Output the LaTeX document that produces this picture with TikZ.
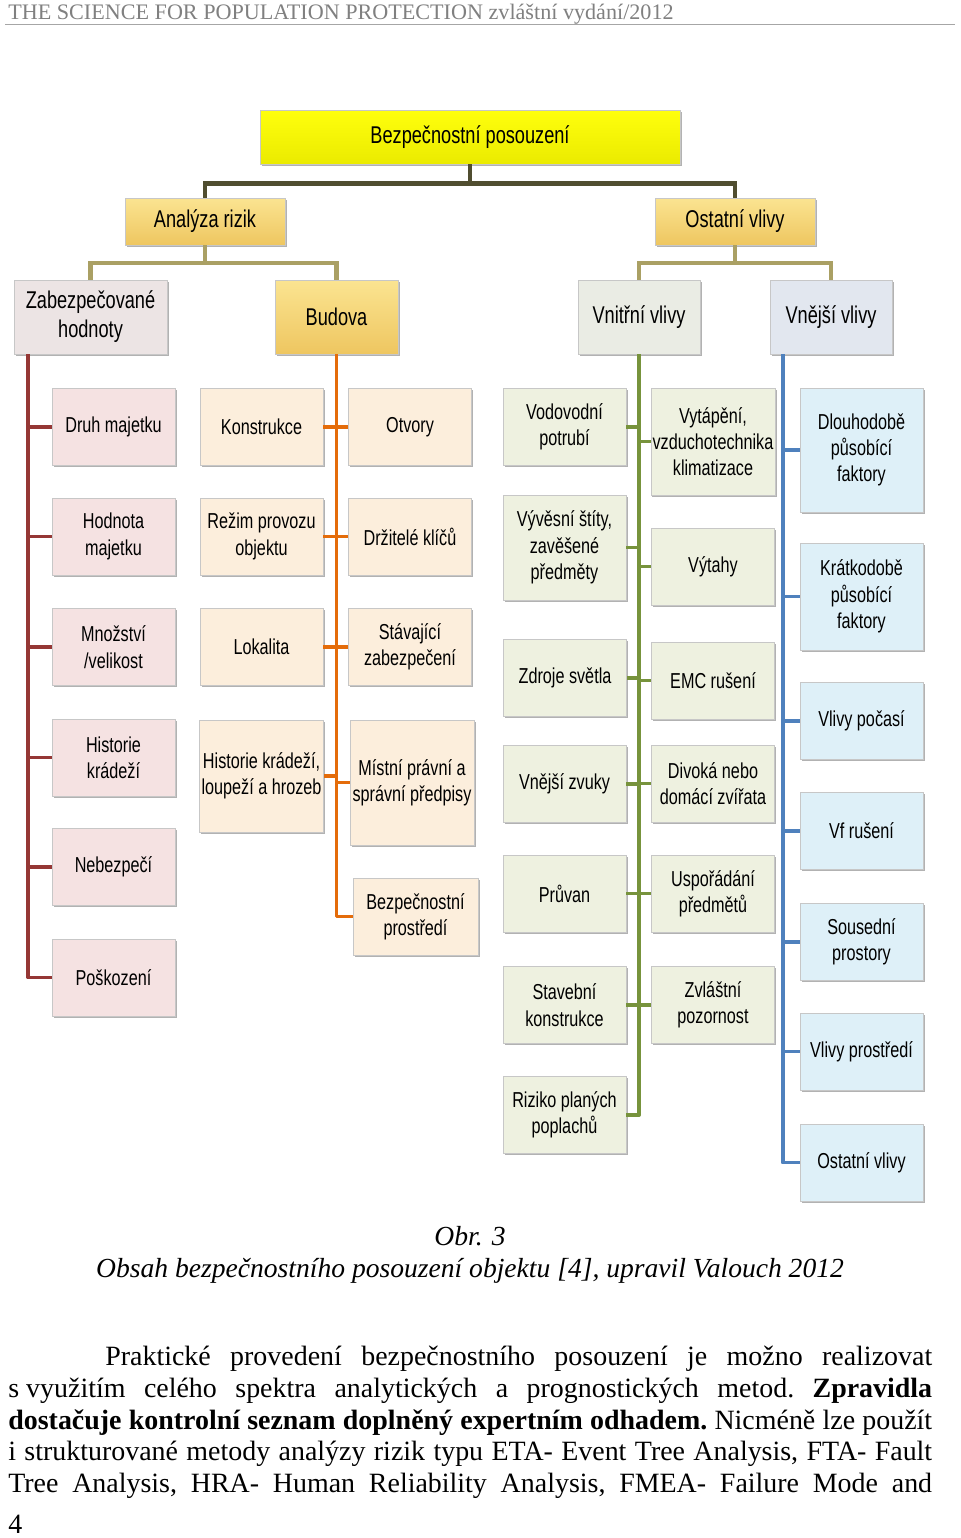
\documentclass[tikz,border=0pt]{standalone}
\usepackage{fontspec}
\setmainfont{Liberation Serif}
\newfontfamily\boxfont[FakeStretch=0.75]{Liberation Sans}
\usetikzlibrary{positioning, calc, shadows}

\definecolor{rootcol}{RGB}{80,78,48}
\definecolor{subcol}{RGB}{170,160,100}
\definecolor{redcol}{RGB}{149,55,53}
\definecolor{orangecol}{RGB}{228,108,10}
\definecolor{greencol}{RGB}{119,147,60}
\definecolor{bluecol}{RGB}{79,129,189}
\definecolor{goldtop}{RGB}{251,228,145}
\definecolor{goldbot}{RGB}{238,198,96}
\definecolor{zabfill}{RGB}{236,228,228}
\definecolor{redfill}{RGB}{245,226,226}
\definecolor{budfill}{RGB}{252,238,220}
\definecolor{vnitfill}{RGB}{234,236,228}
\definecolor{greenfill}{RGB}{238,241,224}
\definecolor{vnejfill}{RGB}{226,231,239}
\definecolor{bluefill}{RGB}{222,240,248}

\begin{document}
\begin{tikzpicture}[
    x=0.02cm, y=-0.02cm,
    % Boxes: flat fill, thin grey border, small shadow
    box/.style={rectangle, draw=black!22, line width=0.4pt, align=center,
        inner sep=1pt,
        drop shadow={shadow xshift=0.9pt, shadow yshift=-1.1pt,
            fill=black!55, opacity=0.55}},
    head/.style={box, font=\boxfont\fontsize{13.8}{16.5}\selectfont},
    leaf/.style={box, minimum width=2.46cm, minimum height=1.54cm,
        font=\boxfont\fontsize{12.3}{15}\selectfont},
    gold/.style={top color=goldtop, bottom color=goldbot},
    redleaf/.style={leaf, fill=redfill},
    budleaf/.style={leaf, fill=budfill},
    greenleaf/.style={leaf, fill=greenfill},
    blueleaf/.style={leaf, fill=bluefill},
    % Connectors
    rootline/.style={draw=rootcol, line width=2.7pt},
    subline/.style={draw=subcol, line width=2.3pt},
    branch/.style={line width=2.2pt, line join=round},
    % Page text
    bodyline/.style={anchor=base west, inner sep=0pt,
        font=\fontsize{15.9}{18}\selectfont\frenchspacing},
    capt/.style={anchor=base, inner sep=0pt,
        font=\fontsize{15.7}{18}\selectfont\itshape},
]

\fill[white] (0,0) rectangle (960,1538);
\useasboundingbox (0,0) rectangle (960,1538);

% ====================================================
% RUNNING HEAD
% ====================================================
\node[anchor=base west, inner sep=0pt, text=black!50,
    font=\fontsize{12.6}{14}\selectfont] (runhead) at (8,19)
    {THE SCIENCE FOR POPULATION PROTECTION zvláštní vydání/2012};
\draw[black!35, line width=1.1pt] (5,24.5) -- (955,24.5);

% ====================================================
% TOP LEVELS
% ====================================================
\node[head, top color=yellow!95!white, bottom color=yellow!92!black,
    minimum width=8.4cm, minimum height=1.08cm] (root) at (470,137)
    {Bezpečnostní posouzení};

\node[head, gold, minimum width=3.2cm, minimum height=0.94cm] (ana) at (205,221.5) {Analýza rizik};
\node[head, gold, minimum width=3.2cm, minimum height=0.94cm] (ost) at (735,221.5) {Ostatní vlivy};

\node[head, fill=zabfill, minimum width=3.06cm, minimum height=1.48cm] (zab) at (90.5,317) {Zabezpečované\\hodnoty};
\node[head, gold, minimum width=2.46cm, minimum height=1.48cm] (bud) at (336.5,317) {Budova};
\node[head, fill=vnitfill, minimum width=2.44cm, minimum height=1.48cm] (vnit) at (639,317) {Vnitřní vlivy};
\node[head, fill=vnejfill, minimum width=2.44cm, minimum height=1.48cm] (vnej) at (831,317) {Vnější vlivy};

\draw[rootline] (root.south) -- ++(0,19) -| (ana.north);
\draw[rootline] (root.south) -- ++(0,19) -| (ost.north);
\draw[subline] (ana.south) -- ++(0,18) -| (zab.north);
\draw[subline] (ana.south) -- ++(0,18) -| (bud.north);
\draw[subline] (ost.south) -- ++(0,18) -| (vnit.north);
\draw[subline] (ost.south) -- ++(0,18) -| (vnej.north);

% ====================================================
% ZABEZPECOVANE HODNOTY
% ====================================================
\node[redleaf] (druh) at (113.5,427) {Druh majetku};
\node[redleaf] (hodn) at (113.5,536.5) {Hodnota\\majetku};
\node[redleaf] (mnoz) at (113.5,647) {Množství\\/velikost};
\node[redleaf] (hist) at (113.5,757.5) {Historie\\krádeží};
\node[redleaf] (nebe) at (113.5,867) {Nebezpečí};
\node[redleaf] (posk) at (113.5,977.5) {Poškození};

\foreach \n in {druh,hodn,mnoz,hist,nebe,posk}
    \draw[branch, redcol] ([xshift=0.29cm]zab.south west) |- (\n.west);

% ====================================================
% BUDOVA
% ====================================================
\node[budleaf] (kons) at (261.5,427) {Konstrukce};
\node[budleaf] (rezim) at (261.5,536.5) {Režim provozu\\objektu};
\node[budleaf] (lokal) at (261.5,647) {Lokalita};
\node[budleaf, minimum height=2.24cm] (hkrad) at (261.5,776) {Historie krádeží,\\loupeží a hrozeb};

\node[budleaf] (otv) at (410,427) {Otvory};
\node[budleaf] (drz) at (410,536.5) {Držitelé klíčů};
\node[budleaf] (stav) at (410,647) {Stávající\\zabezpečení};
\node[budleaf, minimum width=2.48cm, minimum height=2.5cm] (mist) at (412,782.5) {Místní právní a\\správní předpisy};
\node[budleaf, minimum width=2.5cm] (bezp) at (415.5,916.5) {Bezpečnostní\\prostředí};

\foreach \n in {kons,rezim,lokal,hkrad}
    \draw[branch, orangecol] (bud.south) |- (\n.east);
\foreach \n in {otv,drz,stav,mist,bezp}
    \draw[branch, orangecol] (bud.south) |- (\n.west);

% ====================================================
% VNITRNI VLIVY
% ====================================================
\node[greenleaf] (vodo) at (564.5,427) {Vodovodní\\potrubí};
\node[greenleaf, minimum height=2.1cm] (vyves) at (564.5,547.5) {Vývěsní štíty,\\zavěšené\\předměty};
\node[greenleaf] (zdroj) at (565,678) {Zdroje světla};
\node[greenleaf] (zvuk) at (564.5,784) {Vnější zvuky};
\node[greenleaf] (pruv) at (564.5,893.5) {Průvan};
\node[greenleaf] (stavk) at (564.5,1005) {Stavební\\konstrukce};
\node[greenleaf] (rizik) at (564.5,1115) {Riziko planých\\poplachů};

\node[greenleaf, minimum height=2.14cm] (vytap) at (713,441.5) {Vytápění,\\vzduchotechnika\\klimatizace};
\node[greenleaf] (vytah) at (713,566.5) {Výtahy};
\node[greenleaf] (emc) at (713,680.5) {EMC rušení};
\node[greenleaf] (divok) at (713,783.5) {Divoká nebo\\domácí zvířata};
\node[greenleaf] (uspor) at (713,893.5) {Uspořádání\\předmětů};
\node[greenleaf] (zvlas) at (713,1005) {Zvláštní\\pozornost};

\foreach \n in {vodo,vyves,zdroj,zvuk,pruv,stavk,rizik}
    \draw[branch, greencol] (vnit.south) |- (\n.east);
\foreach \n in {vytap,vytah,emc,divok,uspor,zvlas}
    \draw[branch, greencol] (vnit.south) |- (\n.west);

% ====================================================
% VNEJSI VLIVY
% ====================================================
\node[blueleaf, minimum height=2.48cm] (dlouh) at (861.5,450) {Dlouhodobě\\působící\\faktory};
\node[blueleaf, minimum height=2.14cm] (krat) at (861.5,596.5) {Krátkodobě\\působící\\faktory};
\node[blueleaf] (pocas) at (861.5,721) {Vlivy počasí};
\node[blueleaf] (vf) at (861.5,831) {Vf rušení};
\node[blueleaf] (sous) at (861.5,942) {Sousední\\prostory};
\node[blueleaf] (prost) at (861.5,1051.5) {Vlivy prostředí};
\node[blueleaf] (ostv) at (861.5,1162.5) {Ostatní vlivy};

\foreach \n in {dlouh,krat,pocas,vf,sous,prost,ostv}
    \draw[branch, bluecol] ([xshift=0.26cm]vnej.south west) |- (\n.west);

% ====================================================
% CAPTION AND BODY TEXT
% ====================================================
\node[capt] (obr) at (470,1245) {Obr. 3};
\node[capt] (captext) at (470,1277)
    {Obsah bezpečnostního posouzení objektu [4], upravil Valouch 2012};

\node[bodyline] (par1) at (105,1365)
    {\makebox[16.54cm][s]{Praktické provedení bezpečnostního posouzení je možno realizovat}};
\node[bodyline] (par2) at (8,1397)
    {\makebox[18.48cm][s]{\mbox{s využitím} celého spektra analytických a prognostických metod. \textbf{Zpravidla}}};
\node[bodyline] (par3) at (8,1429)
    {\makebox[18.48cm][s]{\textbf{dostačuje kontrolní seznam doplněný expertním odhadem.} Nicméně lze použít}};
\node[bodyline] (par4) at (8,1460)
    {\makebox[18.48cm][s]{i strukturované metody analýzy rizik typu ETA- Event Tree Analysis, FTA- Fault}};
\node[bodyline] (par5) at (8,1492)
    {\makebox[18.48cm][s]{Tree Analysis, HRA- Human Reliability Analysis, FMEA- Failure Mode and}};

\node[bodyline] (pageno) at (8,1533) {4};

\end{tikzpicture}
\end{document}
